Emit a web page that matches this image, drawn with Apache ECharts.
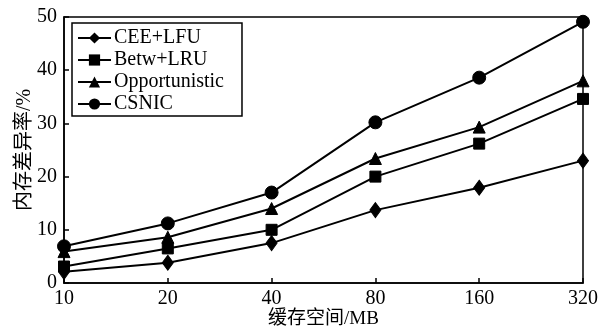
<!DOCTYPE html>
<html>
<head>
<meta charset="utf-8">
<script src="https://cdn.jsdelivr.net/npm/echarts@6/dist/echarts.min.js"></script>
<style>
  html, body { margin: 0; padding: 0; background: #fff; }
  #chart { width: 602px; height: 326px; }
</style>
</head>
<body>
<div id="chart"></div>
<script>
// Cache size (MB) on a log-spaced category axis
const cacheSizes = ['10', '20', '40', '80', '160', '320'];

// Memory difference rate (%) for each strategy
const ceeLfu = [2.1, 3.8, 7.5, 13.7, 17.9, 23.0];
const betwLru = [3.1, 6.5, 10.0, 20.0, 26.2, 34.6];
const opportunistic = [5.9, 8.6, 14.0, 23.4, 29.3, 38.0];
const csnic = [6.9, 11.2, 17.0, 30.2, 38.6, 49.1];

const seriesNames = ['CEE+LFU', 'Betw+LRU', 'Opportunistic', 'CSNIC'];
const seriesData = [ceeLfu, betwLru, opportunistic, csnic];
const symbols = ['diamond', 'rect', 'triangle', 'circle'];
const symbolSizes = [[11, 15], 11, 12, 13];

const serif = '"Liberation Serif", "DejaVu Serif", serif';
const cjk = '"Liberation Serif", "Noto Sans CJK SC", serif';

const chart = echarts.init(document.getElementById('chart'), null, { renderer: 'canvas' });

chart.setOption({
  animation: false,
  backgroundColor: '#fff',
  grid: {
    left: 64, right: 19, top: 17, bottom: 43,
    outerBoundsMode: 'none',
    containLabel: false,
    show: true, borderColor: '#000', borderWidth: 1.5, backgroundColor: 'transparent'
  },
  legend: {
    left: 72, top: 23,
    orient: 'vertical',
    itemWidth: 33, itemHeight: 14, itemGap: 2,
    padding: [5, 18, 2, 5],
    borderColor: '#000', borderWidth: 1.5,
    backgroundColor: '#fff',
    textStyle: { fontFamily: serif, fontSize: 20, color: '#000', padding: [0, 0, 0, -2] },
    data: seriesNames
  },
  xAxis: {
    type: 'category',
    data: cacheSizes,
    boundaryGap: false,
    name: '缓存空间/MB',
    nameLocation: 'middle',
    nameGap: 27,
    nameMoveOverlap: false,
    nameTextStyle: { fontFamily: cjk, fontSize: 19, color: '#000', verticalAlign: 'top', lineHeight: 19 },
    axisLine: { lineStyle: { color: '#000', width: 1.5 } },
    axisTick: { inside: true, length: 5, lineStyle: { color: '#000', width: 1.5 } },
    axisLabel: { fontFamily: serif, fontSize: 20, color: '#000', margin: 6 },
    splitLine: { show: false }
  },
  yAxis: {
    type: 'value',
    min: 0, max: 50, interval: 10,
    name: '内存差异率/%',
    nameLocation: 'middle',
    nameGap: 29,
    nameMoveOverlap: false,
    nameRotate: 90,
    nameTextStyle: { fontFamily: cjk, fontSize: 20, color: '#000' },
    axisLine: { show: true, lineStyle: { color: '#000', width: 1.5 } },
    axisTick: { show: true, inside: true, length: 5, lineStyle: { color: '#000', width: 1.5 } },
    axisLabel: { fontFamily: serif, fontSize: 20, color: '#000', margin: 7 },
    splitLine: { show: false }
  },
  series: seriesNames.map((name, i) => ({
    name: name,
    type: 'line',
    data: seriesData[i],
    symbol: symbols[i],
    symbolSize: symbolSizes[i],
    showAllSymbol: true,
    clip: false,
    z: 3,
    lineStyle: { color: '#000', width: 2 },
    itemStyle: { color: '#000', borderColor: '#000' }
  }))
});
</script>
</body>
</html>
